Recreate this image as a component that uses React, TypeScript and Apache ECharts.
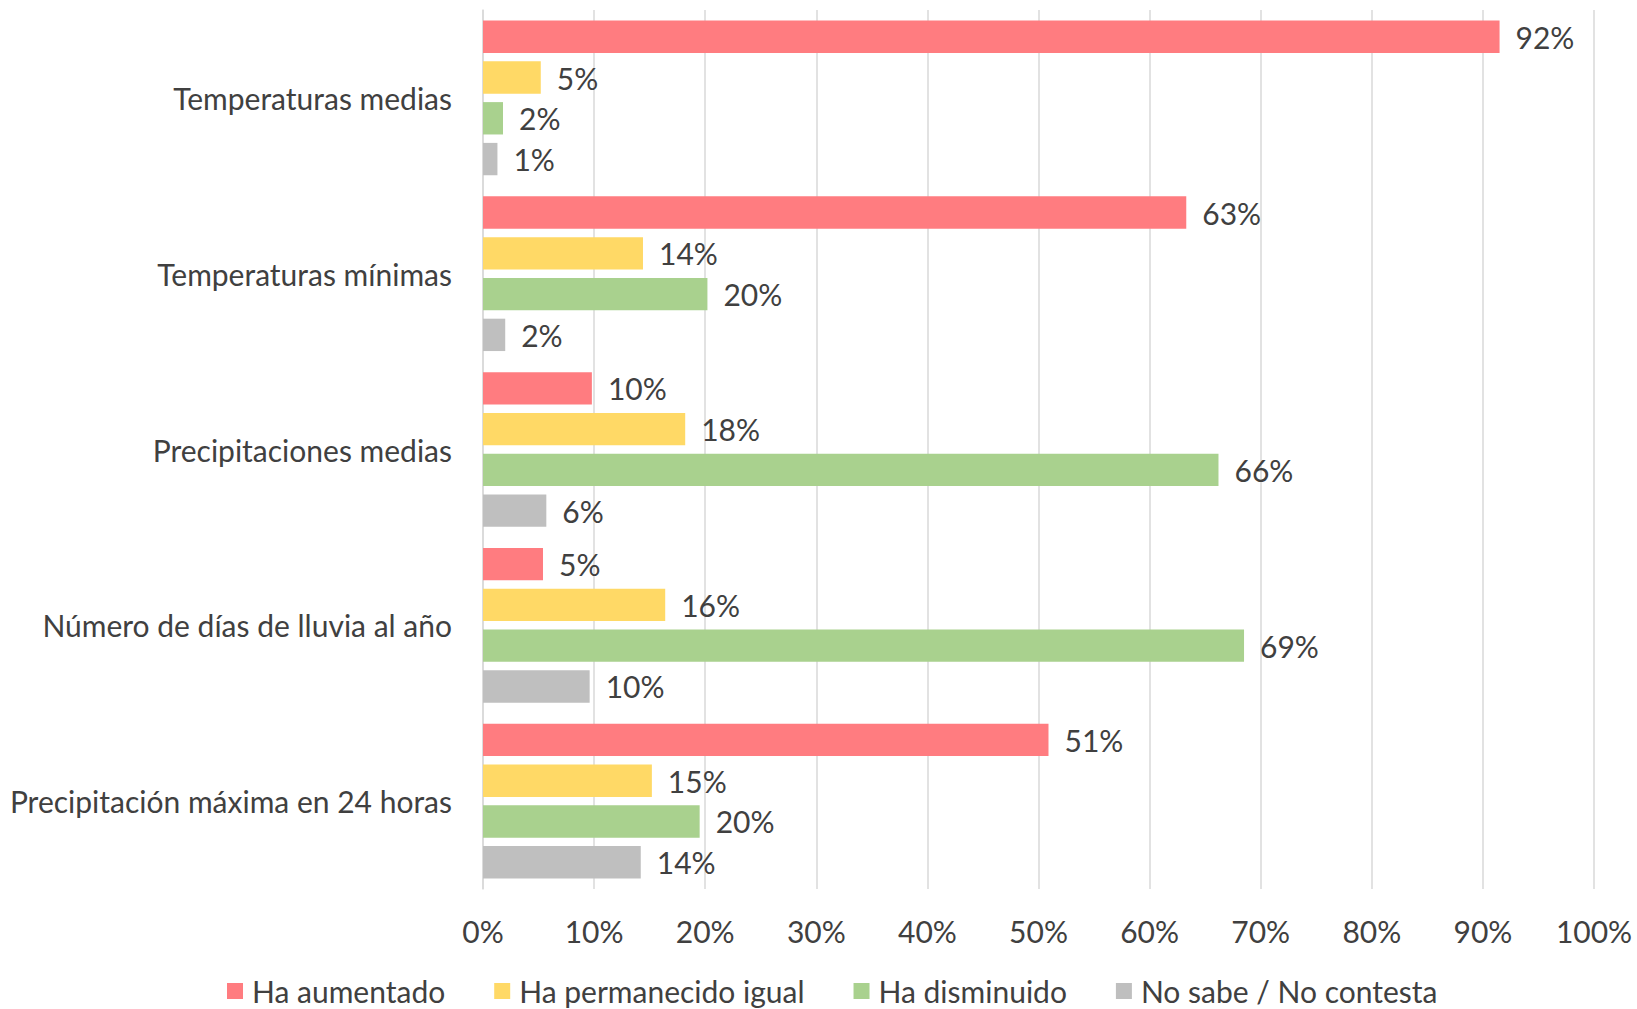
import React, { useEffect, useRef } from "react";
import * as echarts from "echarts";

const categories = [
  "Temperaturas medias",
  "Temperaturas mínimas",
  "Precipitaciones medias",
  "Número de días de lluvia al año",
  "Precipitación máxima en 24 horas",
];
const seriesNames = ["Ha aumentado", "Ha permanecido igual", "Ha disminuido", "No sabe / No contesta"];
const haAumentado = [91.5, 63.3, 9.8, 5.4, 50.9];
const haPermanecido = [5.2, 14.4, 18.2, 16.4, 15.2];
const haDisminuido = [1.8, 20.2, 66.2, 68.5, 19.5];
const noSabe = [1.3, 2.0, 5.7, 9.6, 14.2];
const colors = ["#FF7C80", "#FFD966", "#A9D18E", "#BFBFBF"];
const xTicks = [0, 10, 20, 30, 40, 50, 60, 70, 80, 90, 100];

const FONT = "Lato";
const TEXT = "#404040";
const FS = 30;

export default function App() {
  const ref = useRef<HTMLDivElement>(null);
  useEffect(() => {
    const chart = echarts.init(ref.current!, null, { renderer: "svg" });
    const values = [haAumentado, haPermanecido, haDisminuido, noSabe];
    chart.setOption({
      animation: false,
      textStyle: { fontFamily: FONT, color: TEXT },
      grid: { left: 483, right: 43, top: 10, bottom: 120, containLabel: false },
      xAxis: {
        type: "value",
        min: 0,
        max: 100,
        interval: 10,
        axisLine: { show: false },
        axisTick: { show: false },
        splitLine: { show: true, lineStyle: { color: "#D9D9D9", width: 1.5 } },
        axisLabel: {
          margin: 27,
          fontSize: FS,
          fontFamily: FONT,
          color: TEXT,
          formatter: (v: number) => (xTicks.includes(v) ? v + "%" : ""),
        },
      },
      yAxis: {
        type: "category",
        data: categories,
        inverse: true,
        axisLine: { show: true, lineStyle: { color: "#D9D9D9", width: 1.5 } },
        axisTick: { show: false },
        axisLabel: { margin: 31, fontSize: FS, fontFamily: FONT, color: TEXT, padding: [0, 0, 6, 0] },
      },
      legend: {
        show: true,
        left: 222,
        top: 971,
        itemWidth: 16,
        itemHeight: 16,
        itemGap: 49,
        icon: "rect",
        data: seriesNames,
        textStyle: { fontSize: FS, fontFamily: FONT, color: TEXT, padding: [0, 0, 0, 4] },
      },
      series: seriesNames.map((name, i) => ({
        name,
        type: "bar",
        data: values[i],
        barGap: "26%",
        barCategoryGap: "12%",
        itemStyle: { color: colors[i] },
        label: {
          show: true,
          position: "right",
          distance: 16,
          fontSize: FS,
          fontFamily: FONT,
          color: TEXT,
          formatter: (p: any) => Math.round(p.value) + "%",
        },
      })),
    });
    return () => chart.dispose();
  }, []);
  return (
    <div
      ref={ref}
      style={{ position: "absolute", left: 0, top: 0, width: 1637, height: 1009, background: "#fff" }}
    />
  );
}
